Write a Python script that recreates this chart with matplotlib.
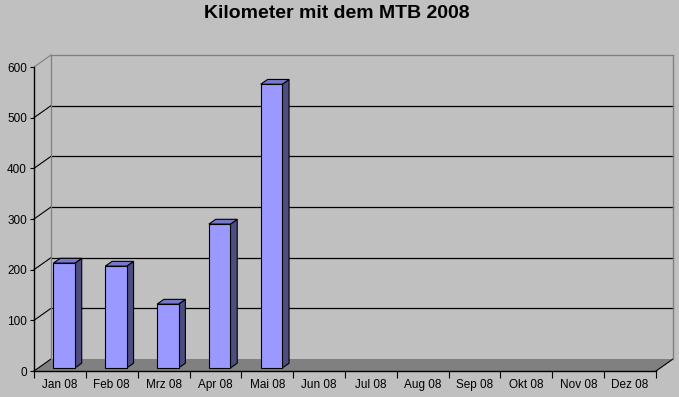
import matplotlib
matplotlib.use("Agg")
import matplotlib.pyplot as plt
from matplotlib.patches import Polygon
from matplotlib.lines import Line2D

months = ["Jan 08", "Feb 08", "Mrz 08", "Apr 08", "Mai 08", "Jun 08",
          "Jul 08", "Aug 08", "Sep 08", "Okt 08", "Nov 08", "Dez 08"]
km = [207, 201, 126, 284, 560, 0, 0, 0, 0, 0, 0, 0]
yticks = [0, 100, 200, 300, 400, 500, 600]
title = "Kilometer mit dem MTB 2008"

W, H = 679, 397
fig = plt.figure(figsize=(W / 100, H / 100), dpi=100)
fig.patch.set_facecolor("#C0C0C0")

# front plane of the plot area (pixels)
x0, x1 = 34, 656
yb, yt = 371, 67
ax = fig.add_axes([x0 / W, (H - yb) / H, (x1 - x0) / W, (yb - yt) / H])
ax.set_facecolor("none")
n = len(months)
ymax = 600
ax.set_xlim(0, n)
ax.set_ylim(0, ymax)

pxx = (x1 - x0) / n
pxy = (yb - yt) / ymax
DX = 17 / pxx
DY = 12 / pxy

grey = "#808080"
# floor
ax.add_patch(Polygon([(0, 0), (n, 0), (n + DX, DY), (DX, DY)], closed=True,
                     facecolor=grey, edgecolor="none", clip_on=False, zorder=1))
ax.add_line(Line2D([n, n + DX], [0, DY], color="black", lw=0.8, clip_on=False, zorder=2))
# gridlines on back wall and left wall
for t in yticks:
    c = grey if t == ymax else "black"
    if t > 0:
        ax.add_line(Line2D([DX, n + DX], [t + DY, t + DY], color=c, lw=0.9,
                           clip_on=False, zorder=2))
    ax.add_line(Line2D([0, DX], [t, t + DY], color=c, lw=0.8, clip_on=False, zorder=2))
# wall edges
ax.add_line(Line2D([DX, DX], [DY, ymax + DY], color=grey, lw=0.9, clip_on=False, zorder=2))
ax.add_line(Line2D([n + DX, n + DX], [DY, ymax + DY], color=grey, lw=1.0, clip_on=False, zorder=2))

# bars
f0, f1 = 0.25, 0.65
bw = 0.415
front_c, top_c, side_c = "#9999FF", "#7777CC", "#4D4D80"
for i, v in enumerate(km):
    if v <= 0:
        continue
    cx = i + 0.5
    ox0, oy0 = f0 * DX, f0 * DY
    ox1, oy1 = f1 * DX, f1 * DY
    l, r = cx - bw / 2, cx + bw / 2
    front = [(l + ox0, oy0), (r + ox0, oy0), (r + ox0, v + oy0), (l + ox0, v + oy0)]
    side = [(r + ox0, oy0), (r + ox1, oy1), (r + ox1, v + oy1), (r + ox0, v + oy0)]
    top = [(l + ox0, v + oy0), (r + ox0, v + oy0), (r + ox1, v + oy1), (l + ox1, v + oy1)]
    for poly, col in ((side, side_c), (top, top_c), (front, front_c)):
        ax.add_patch(Polygon(poly, closed=True, facecolor=col, edgecolor="black",
                             lw=0.8, clip_on=False, zorder=3, joinstyle="miter"))

# axes styling
for s in ("top", "right"):
    ax.spines[s].set_visible(False)
for s in ("left", "bottom"):
    ax.spines[s].set_color("black")
    ax.spines[s].set_linewidth(1.0)
    ax.spines[s].set_zorder(4)
ax.set_yticks(yticks)
ax.set_yticklabels([str(t) for t in yticks])
ax.tick_params(axis="y", direction="out", length=3, width=0.8, pad=2,
               labelsize=8.5, colors="black")
ax.set_xticks(range(n + 1))
ax.set_xticklabels([])
ax.set_xticks([i + 0.5 for i in range(n)], minor=True)
ax.set_xticklabels(months, minor=True)
ax.tick_params(axis="x", which="major", direction="out", length=5, width=0.8)
ax.tick_params(axis="x", which="minor", length=0, pad=6, labelsize=8.5)
for lab in ax.get_xticklabels(minor=True) + ax.get_yticklabels():
    lab.set_family("Liberation Sans")

fig.text(336.5 / W, 1 - 14 / H, title, ha="center", va="center",
         fontsize=14, fontweight="bold", family="Liberation Sans")

fig.savefig("out.png", dpi=100, facecolor=fig.get_facecolor())
